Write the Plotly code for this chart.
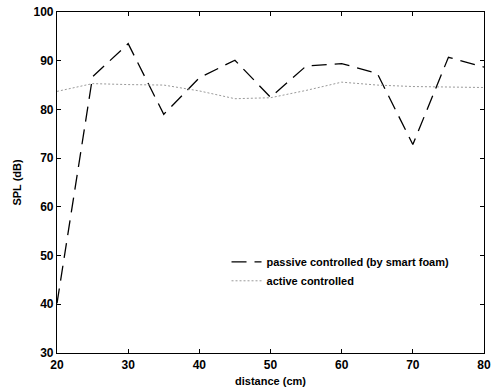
import plotly.graph_objects as go

distance = [20, 25, 30, 35, 40, 45, 50, 55, 60, 65, 70, 75, 80]
passive = [40.2, 86.7, 93.5, 79.0, 86.5, 90.1, 82.5, 88.9, 89.4, 87.4, 72.8, 90.7, 88.7]
active = [83.7, 85.3, 85.1, 85.0, 83.8, 82.2, 82.4, 83.9, 85.6, 85.0, 84.7, 84.6, 84.5]

fig = go.Figure()
fig.add_trace(go.Scatter(x=distance, y=passive, mode="lines",
                         name="passive controlled (by smart foam)",
                         line=dict(color="black", width=1.3, dash="15px,8px")))
fig.add_trace(go.Scatter(x=distance, y=active, mode="lines",
                         name="active controlled",
                         line=dict(color="#9a9a9a", width=1, dash="2px,2px")))

axis_common = dict(showline=True, linecolor="black", linewidth=1.2, mirror="ticks",
                   ticks="inside", ticklen=4, tickcolor="black", showgrid=False,
                   zeroline=False, automargin=False,
                   tickfont=dict(family="Liberation Sans", size=12, color="black", weight="bold"))

fig.update_layout(
    width=495, height=390,
    margin=dict(l=57, r=11, t=12, b=37, autoexpand=False),
    paper_bgcolor="white", plot_bgcolor="white",
    font=dict(family="Liberation Sans", size=11, color="black"),
    xaxis=dict(range=[20, 80], tickvals=[20, 30, 40, 50, 60, 70, 80],
               title=dict(text="distance (cm)", standoff=6,
                          font=dict(size=11, weight="bold")), **axis_common),
    yaxis=dict(range=[30, 100], tickvals=[30, 40, 50, 60, 70, 80, 90, 100],
               title=dict(text="SPL (dB)", standoff=9,
                          font=dict(size=11, weight="bold")), **axis_common),
    legend=dict(x=0.397, y=0.31, xanchor="left", yanchor="top",
                bgcolor="rgba(0,0,0,0)", font=dict(size=11, weight="bold"),
                tracegroupgap=0),
    showlegend=True,
)

fig.write_html("out.html", config={"displayModeBar": False},
               post_script="document.body.style.margin='0';document.body.style.overflow='hidden';")
